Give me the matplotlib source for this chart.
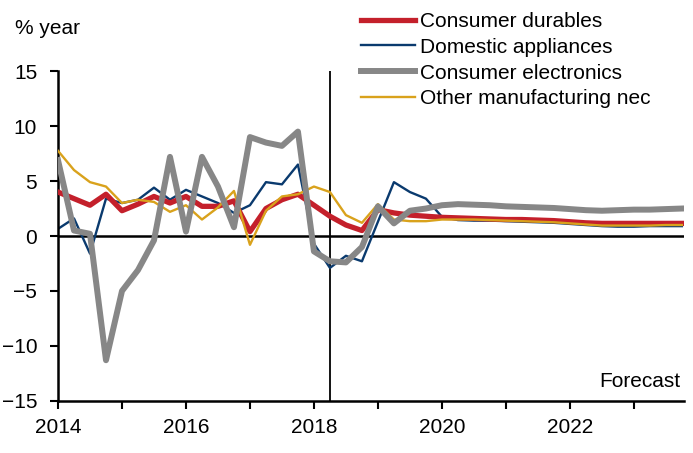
import numpy as np
import matplotlib
matplotlib.use('Agg')
import matplotlib.pyplot as plt

plt.rcParams['font.family'] = ['Liberation Sans', 'DejaVu Sans']

# quarterly, 2014Q1 - 2023Q4
dates = 2014 + np.arange(40) * 0.25

durables = [4.0, 3.4, 2.8, 3.8, 2.3, 2.9, 3.6, 3.0, 3.6, 2.7,
            2.7, 3.2, 0.4, 2.5, 3.3, 3.8, 2.8, 1.8, 1.0, 0.5,
            2.4, 2.1, 1.9, 1.8, 1.7, 1.65, 1.6, 1.55, 1.5, 1.5,
            1.45, 1.4, 1.3, 1.2, 1.15, 1.15, 1.15, 1.15, 1.15, 1.15]
appliances = [0.65, 1.6, -1.6, 3.4, 3.0, 3.3, 4.4, 3.3, 4.2, 3.6,
              3.0, 2.1, 2.8, 4.9, 4.7, 6.5, -0.7, -2.9, -1.8, -2.3,
              1.3, 4.9, 4.0, 3.4, 1.75, 1.45, 1.4, 1.4, 1.35, 1.3,
              1.25, 1.2, 1.1, 1.0, 0.9, 0.85, 0.85, 0.9, 0.9, 0.9]
electronics = [6.9, 0.5, 0.2, -11.3, -5.0, -3.1, -0.4, 7.2, 0.4, 7.2,
               4.5, 0.8, 9.0, 8.5, 8.2, 9.5, -1.4, -2.3, -2.4, -1.0,
               2.7, 1.15, 2.3, 2.5, 2.8, 2.9, 2.85, 2.8, 2.7, 2.65,
               2.6, 2.55, 2.45, 2.35, 2.3, 2.35, 2.4, 2.4, 2.45, 2.5]
other = [7.75, 6.0, 4.9, 4.5, 3.0, 3.3, 3.1, 2.2, 2.8, 1.5,
         2.6, 4.1, -0.8, 2.3, 3.6, 3.8, 4.5, 4.0, 1.9, 1.2,
         2.9, 1.5, 1.35, 1.35, 1.5, 1.5, 1.5, 1.45, 1.4, 1.35,
         1.3, 1.25, 1.15, 1.05, 0.95, 0.95, 0.95, 0.95, 1.0, 1.0]

forecast_start = 2018.25
year_ticks = list(range(2014, 2024))
year_labels = [str(y) if y % 2 == 0 else '' for y in year_ticks]

fig = plt.figure(figsize=(6.93, 4.53), dpi=100)
ax = fig.add_axes([0.0837, 0.115, 0.903, 0.728])

# zero line and forecast divider
ax.axhline(0, color='black', lw=1.8, zorder=1)
ax.axvline(forecast_start, color='black', lw=1.3, zorder=1)

l_app, = ax.plot(dates, appliances, color='#0a3a6e', lw=1.7, label='Domestic appliances', zorder=2)
l_dur, = ax.plot(dates, durables, color='#c4202b', lw=3.8, label='Consumer durables', zorder=3)
l_oth, = ax.plot(dates, other, color='#d9a21c', lw=1.7, label='Other manufacturing nec', zorder=4)
l_ele, = ax.plot(dates, electronics, color='#878787', lw=4.3, label='Consumer electronics', zorder=5)

ax.set_xlim(2014, 2023.78)
ax.set_ylim(-15, 15)
ax.set_yticks([-15, -10, -5, 0, 5, 10, 15])
ax.set_xticks(year_ticks)
ax.set_xticklabels(year_labels)

for s in ['top', 'right']:
    ax.spines[s].set_visible(False)
for s in ['left', 'bottom']:
    ax.spines[s].set_linewidth(1.8)
ax.tick_params(axis='both', labelsize=15, width=1.5, length=6, direction='out', colors='black')
ax.tick_params(axis='y', pad=9)
ax.tick_params(axis='x', pad=6)

ax.text(2023.72, -13.2, 'Forecast', ha='right', va='center', fontsize=15)
fig.text(0.022, 0.936, '% year', ha='left', va='center', fontsize=15)

fig.legend(handles=[l_dur, l_app, l_ele, l_oth], loc='upper left',
           bbox_to_anchor=(0.5, 1.006), frameon=False, fontsize=15,
           handlelength=2.6, handletextpad=0.25, labelspacing=0.33, borderpad=0.2)

fig.savefig('out.png', dpi=100)
